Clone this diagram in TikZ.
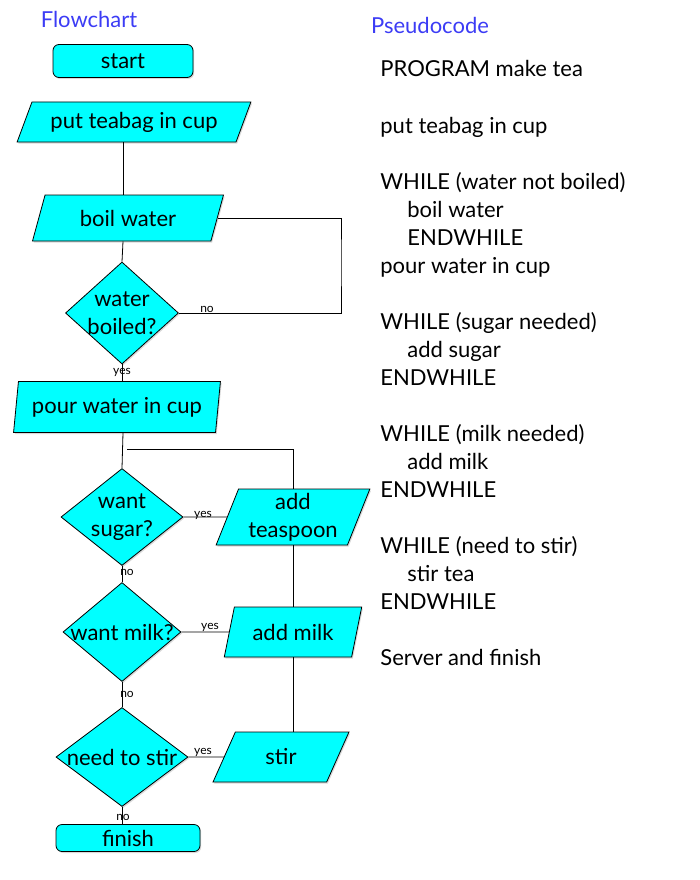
\documentclass[tikz,border=0pt]{standalone}
\usepackage{fontspec}
\setmainfont{Lato}
\usepackage{tikz}
\usetikzlibrary{shapes.geometric,shadows,positioning}

\definecolor{headblue}{RGB}{60,60,245}
\definecolor{boxcyan}{RGB}{0,255,255}

\tikzset{
	box/.style={draw, fill=boxcyan, line width=0.8pt,
		drop shadow={shadow xshift=1.2pt, shadow yshift=-1.5pt, opacity=0.3}},
	term/.style 2 args={box, rectangle, rounded corners=6pt, minimum width=#1, minimum height=#2, inner sep=0},
	io/.style n args={4}{box, trapezium, trapezium stretches=true,
		trapezium left angle=#3, trapezium right angle=#4,
		minimum width=#1, minimum height=#2, inner sep=0, align=center},
	dec/.style 2 args={box, diamond, minimum width=#1, minimum height=#2, inner sep=0},
	ans/.style={font=\fontsize{12}{13}\selectfont, inner sep=0},
	head/.style={text=headblue, font=\fontsize{22}{24}\selectfont, inner sep=0},
	code/.style={anchor=base west, inner sep=0}
}

\begin{document}
\begin{tikzpicture}[x=1pt, y=-1pt, line width=0.8pt,
	every node/.style={font=\fontsize{22}{28}\selectfont}]
\useasboundingbox (0,0) rectangle (700,880);

% Titles above the two columns
\node[head] (fchead) at (89,19) {Flowchart};
\node[head] (pchead) at (430,25) {Pseudocode};

% The flowchart, top part: teabag and boiling the water
\node[term={140}{33}] (start) at (123,61) {start};
\node[io={234}{40}{59}{121}] (ptea) at (134,122) {put teabag in cup};
\node[io={191}{46}{66}{114}] (boil) at (128,218) {boil water};
\node[dec={113}{102}, label={[align=center]center:water\\boiled?}] (wq) at (122,313) {};
\node[io={207}{51}{78}{102}] (pour) at (117,407) {pour water in cup};

% The three questions in the lower part
\node[dec={122}{97}, label={[align=center]center:want\\sugar?}] (sq) at (122,517) {};
\node[dec={118}{99}, label=center:want milk?] (mq) at (122,632) {};
\node[dec={132}{99}, label=center:need to stir] (stq) at (122,757) {};
\node[term={144}{27}] (finish) at (128,838) {finish};

% Actions taken on a yes
\node[io={154}{56}{69}{111}] (tsp) at (293,517) {add\\teaspoon};
\node[io={138}{50}{67}{113}] (milk) at (293,632) {add milk};
\node[io={136}{50}{65}{115}] (stir) at (281,757) {stir};

% Main line down the chart
\draw (ptea.south -| start) -- (boil.north -| start);
\draw (boil.south -| start) -- (wq.north);
\draw (wq.south) -- (pour.north -| wq);
\draw (pour.south -| start) -- (sq.north);
\draw (sq.south) -- (mq.north);
\draw (mq.south) -- (stq.north);
\draw (stq.south) -- (stq.south |- finish.north);

% Loop back while the water is not boiled
\coordinate (ret1) at (341,260);
\draw (boil.east) -| (ret1) |- (wq.east);

% Yes branches and the line that goes back up
\draw (sq.east) -- (tsp.west);
\draw (mq.east) -- (milk.west);
\draw (stq.east) -- (stir.west);
\draw (milk.center |- stir.north) -- (milk.center |- milk.south);
\draw (milk.center |- milk.north) -- (tsp.center |- tsp.south);
\coordinate (ret2) at (127,449);
\draw (tsp.center |- tsp.north) |- (ret2);

% yes / no labels
\node[ans] (wqno) at (207,309) {no};
\node[ans] (wqyes) at (122,372) {yes};
\node[ans] (sqyes) at (203,515) {yes};
\node[ans] (sqno) at (127,572) {no};
\node[ans] (mqyes) at (210,627) {yes};
\node[ans] (mqno) at (127,694) {no};
\node[ans] (stqyes) at (203,752) {yes};
\node[ans] (stqno) at (123,817) {no};

% The pseudocode, one line per node
\foreach \y/\x/\t [count=\i] in {69/380/PROGRAM make tea, 126/380/put teabag in cup,
	181/380/WHILE (water not boiled), 209/407/boil water, 237/407/ENDWHILE,
	265/380/pour water in cup, 321/380/WHILE (sugar needed), 349/407/add sugar,
	377/380/ENDWHILE, 433/380/WHILE (milk needed), 461/407/add milk,
	489/380/ENDWHILE, 545/380/WHILE (need to stir), 573/407/stir tea,
	601/380/ENDWHILE, 657/380/Server and finish}
	\node[code] (pc\i) at (\x,\y+8) {\t};
\end{tikzpicture}
\end{document}
